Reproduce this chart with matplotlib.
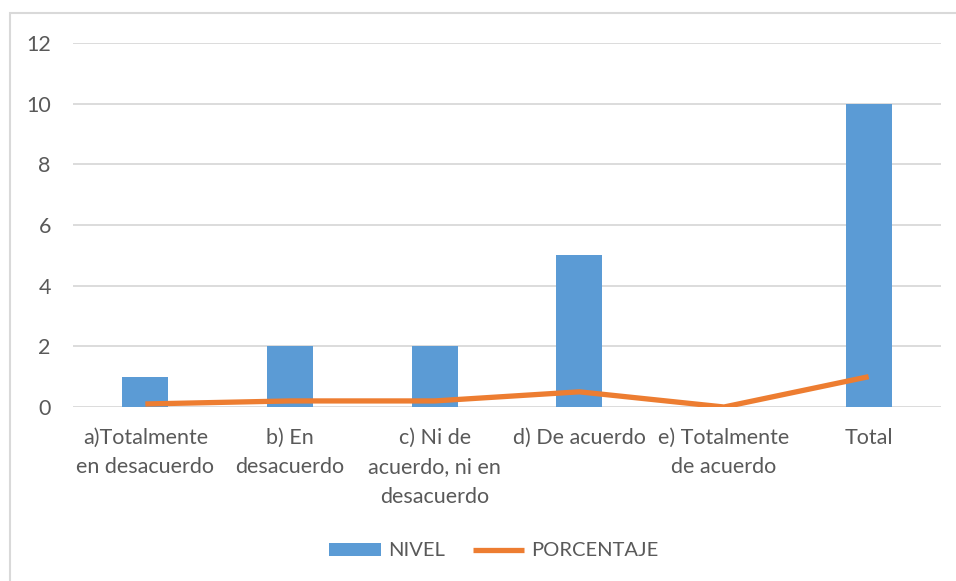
import numpy as np
import matplotlib
matplotlib.use("Agg")
import matplotlib.pyplot as plt
from matplotlib.patches import Rectangle

# Datos del grafico
categorias = ["a)Totalmente\nen desacuerdo", "b) En\ndesacuerdo",
              "c) Ni de\nacuerdo, ni en\ndesacuerdo", "d) De acuerdo",
              "e) Totalmente\nde acuerdo", "Total"]
nivel = [1, 2, 2, 5, 0, 10]
porcentaje = [0.1, 0.2, 0.2, 0.5, 0.0, 1.0]
y_ticks = [0, 2, 4, 6, 8, 10, 12]

plt.rcParams['font.family'] = ['Lato', 'DejaVu Sans']
gris_texto = "#595959"

W, H = 956, 581
fig = plt.figure(figsize=(W / 100, H / 100), dpi=100)
ax = fig.add_axes([73 / W, 1 - 407 / H, (941 - 73) / W, (407 - 43) / H])

# Borde del area del grafico (cortado a la derecha y abajo)
fig.patches.append(Rectangle((10 / W, -0.05), 1.1, 1 - 13 / H + 0.05,
                             transform=fig.transFigure, fill=False,
                             edgecolor="#d9d9d9", linewidth=1.5))

x = np.arange(len(categorias))
barras = ax.bar(x, nivel, width=0.32, color="#5b9bd5", label="NIVEL", zorder=2)
linea, = ax.plot(x, porcentaje, color="#ed7d31", linewidth=3.8, label="PORCENTAJE",
                 solid_capstyle="butt", zorder=3)

ax.set_xlim(-0.5, len(categorias) - 0.5)
ax.set_ylim(0, 12)
ax.set_yticks(y_ticks)
ax.grid(axis="y", color="#d9d9d9", linewidth=1.3, zorder=0)
for s in ax.spines.values():
    s.set_visible(False)
ax.tick_params(axis="both", length=0, labelsize=15.5, labelcolor=gris_texto)
ax.tick_params(axis="y", pad=16)
ax.tick_params(axis="x", pad=15)
ax.set_xticks(x)
ax.set_xticklabels(categorias, linespacing=1.6)

fig.legend([barras, linea], ["NIVEL", "PORCENTAJE"], loc="center",
           bbox_to_anchor=(494 / W, 1 - 551 / H), ncol=2,
           frameon=False, fontsize=14.5, labelcolor=gris_texto,
           handlelength=2.55, handleheight=0.65, handletextpad=0.35,
           columnspacing=1.4)

fig.savefig("out.png", dpi=100)
